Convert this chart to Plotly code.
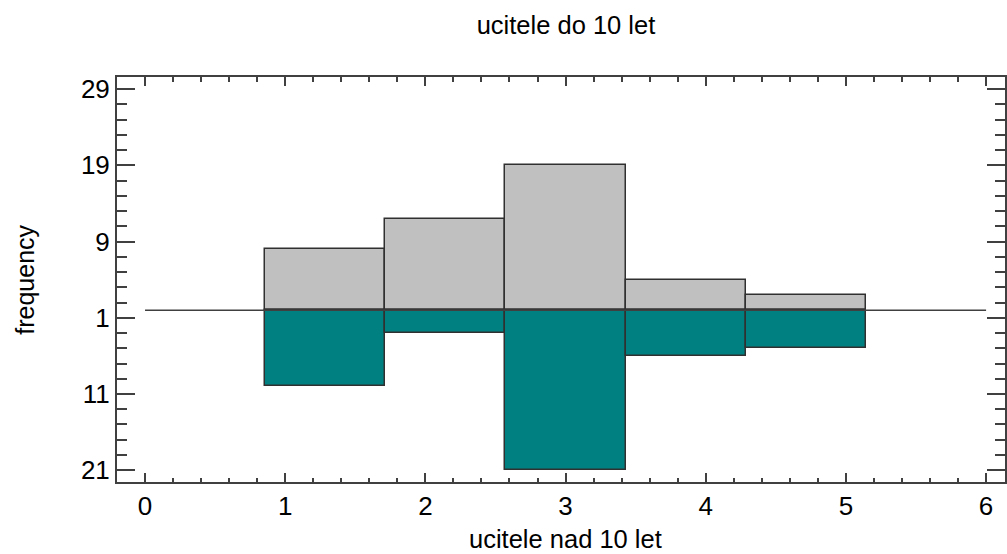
import plotly.graph_objects as go

# Class midpoints (bin width 6/7) and frequencies of the two groups
bin_width = 6 / 7
bin_centers = [1.2857, 2.1429, 3.0, 3.8571, 4.7143]
freq_do_10 = [8, 12, 19, 4, 2]      # upper histogram
freq_nad_10 = [10, 3, 21, 6, 5]     # lower (mirrored) histogram

# y tick positions and their absolute-value labels
y_tickvals = [-21, -11, -1, 9, 19, 29]
y_ticktext = ["21", "11", "1", "9", "19", "29"]
x_tickvals = [0, 1, 2, 3, 4, 5, 6]

FONT = "Liberation Sans, Arial, sans-serif"
AXIS_COLOR = "#404040"
EDGE = "#303030"

fig = go.Figure()

fig.add_trace(go.Bar(
    x=bin_centers, y=freq_do_10, base=0, width=bin_width,
    marker=dict(color="#C0C0C0", line=dict(color=EDGE, width=1.5)),
    showlegend=False, hoverinfo="x+y",
))
fig.add_trace(go.Bar(
    x=bin_centers, y=[-v for v in freq_nad_10], base=0, width=bin_width,
    marker=dict(color="#008080", line=dict(color=EDGE, width=1.5)),
    showlegend=False, hoverinfo="x+y",
))

# zero line across the range of the variable
fig.add_shape(type="line", xref="x", yref="y", x0=0, x1=6, y0=0, y1=0,
              line=dict(color=AXIS_COLOR, width=1.5), layer="above")

fig.update_layout(
    width=1007, height=554,
    margin=dict(l=117, r=0, t=77, b=72),
    paper_bgcolor="white", plot_bgcolor="white",
    barmode="overlay", bargap=0,
    font=dict(family=FONT, size=25, color="black"),
    title=dict(text="ucitele do 10 let", font=dict(size=25.5, family=FONT, color="black"),
               xref="paper", x=0.5056, xanchor="center",
               yref="container", y=1 - 25 / 554, yanchor="middle"),
)

fig.update_xaxes(
    range=[-0.2, 6.135], tickmode="array", tickvals=x_tickvals,
    ticks="inside", ticklen=9, tickwidth=1.5, tickcolor=AXIS_COLOR,
    showline=True, linecolor=AXIS_COLOR, linewidth=2, mirror="ticks",
    showgrid=False, zeroline=False,
    tickfont=dict(size=26, family=FONT, color="black"),
    minor=dict(ticks="inside", ticklen=4.5, tickwidth=1.5, tickcolor=AXIS_COLOR,
               tick0=0, dtick=0.2, showgrid=False),
)
fig.update_yaxes(
    range=[-22.55, 30.6], tickmode="array", tickvals=y_tickvals, ticktext=y_ticktext,
    ticks="inside", ticklen=18, tickwidth=1.5, tickcolor=AXIS_COLOR,
    showline=True, linecolor=AXIS_COLOR, linewidth=2, mirror="ticks",
    showgrid=False, zeroline=False,
    tickfont=dict(size=26, family=FONT, color="black"),
    minor=dict(ticks="inside", ticklen=10, tickwidth=1.5, tickcolor=AXIS_COLOR,
               tick0=-1, dtick=2, showgrid=False),
)

# axis titles placed as annotations, centred on the same x as the title
fig.add_annotation(text="ucitele nad 10 let", xref="paper", yref="paper",
                   x=0.5056, y=-72 / 405, xanchor="center", yanchor="bottom",
                   showarrow=False, borderpad=0,
                   font=dict(size=25.5, family=FONT, color="black"))
fig.add_annotation(text="frequency", xref="paper", yref="paper",
                   x=-0.1045, y=0.5, xanchor="center", yanchor="middle", textangle=-90,
                   showarrow=False, font=dict(size=25, family=FONT, color="black"))

fig.write_html("out.html")
